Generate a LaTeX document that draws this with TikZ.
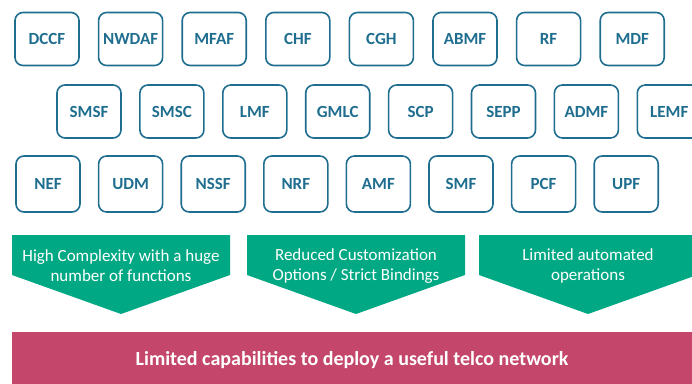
\documentclass[tikz,border=0pt]{standalone}
\usepackage{fontspec}
\setmainfont{Carlito}
\usepackage{xcolor}
\usepackage{tikz}
\definecolor{nfblue}{HTML}{1F6E8F}
\definecolor{issuegreen}{HTML}{00A884}
\definecolor{limitred}{HTML}{C4476B}

\begin{document}
\begin{tikzpicture}[x=1pt, y=-1pt,
  nf/.style={rectangle, rounded corners=8pt, draw=nfblue, fill=white,
    minimum width=64pt, minimum height=#1, align=center, text=nfblue,
    font=\fontsize{17}{19}\selectfont\bfseries, line width=1.6pt},
  nf/.default=53pt,
  issuetext/.style={text=white, align=center,
    font=\fontsize{17}{20}\selectfont},
  limit/.style={rectangle, fill=limitred, minimum width=680pt,
    minimum height=56pt, text=white, font=\fontsize{20}{22}\selectfont\bfseries}
]
\useasboundingbox (0,0) rectangle (692,383);
% first row of functions
\node[nf] (dccf) at (47,39) {DCCF};
\node[nf] (nwdaf) at (130.6,39) {NWDAF};
\node[nf] (mfaf) at (214.2,39) {MFAF};
\node[nf] (chf) at (297.8,39) {CHF};
\node[nf] (cgh) at (381.4,39) {CGH};
\node[nf] (abmf) at (465,39) {ABMF};
\node[nf] (rf) at (548.6,39) {RF};
\node[nf] (mdf) at (632.2,39) {MDF};
% second row
\node[nf] (smsf) at (89,111.5) {SMSF};
\node[nf] (smsc) at (171.9,111.5) {SMSC};
\node[nf] (lmf) at (254.8,111.5) {LMF};
\node[nf] (gmlc) at (337.7,111.5) {GMLC};
\node[nf] (scp) at (420.6,111.5) {SCP};
\node[nf] (sepp) at (503.5,111.5) {SEPP};
\node[nf] (admf) at (586.4,111.5) {ADMF};
\node[nf] (lemf) at (669.3,111.5) {LEMF};
% third row
\node[nf=56pt] (nef) at (48,184) {NEF};
\node[nf=56pt] (udm) at (130.6,184) {UDM};
\node[nf=56pt] (nssf) at (213.2,184) {NSSF};
\node[nf=56pt] (nrf) at (295.8,184) {NRF};
\node[nf=56pt] (amf) at (378.4,184) {AMF};
\node[nf=56pt] (smf) at (461,184) {SMF};
\node[nf=56pt] (pcf) at (543.6,184) {PCF};
\node[nf=56pt] (upf) at (626.2,184) {UPF};
% the three issues
\fill[issuegreen] (12,235) -- (230,235) -- (230,275) -- (121,314) -- (12,275) -- cycle;
\fill[issuegreen] (247,235) -- (465,235) -- (465,275) -- (356,314) -- (247,275) -- cycle;
\fill[issuegreen] (479,235) -- (697,235) -- (697,275) -- (588,314) -- (479,275) -- cycle;
\node[issuetext] (complexity) at (121,266) {High Complexity with a huge\\number of functions};
\node[issuetext] (custom) at (356,266) {Reduced Customization\\Options / Strict Bindings};
\node[issuetext] (automation) at (588,266) {Limited automated\\operations};
% result
\node[limit] (result) at (352,360) {Limited capabilities to deploy a useful telco network};
\end{tikzpicture}
\end{document}
